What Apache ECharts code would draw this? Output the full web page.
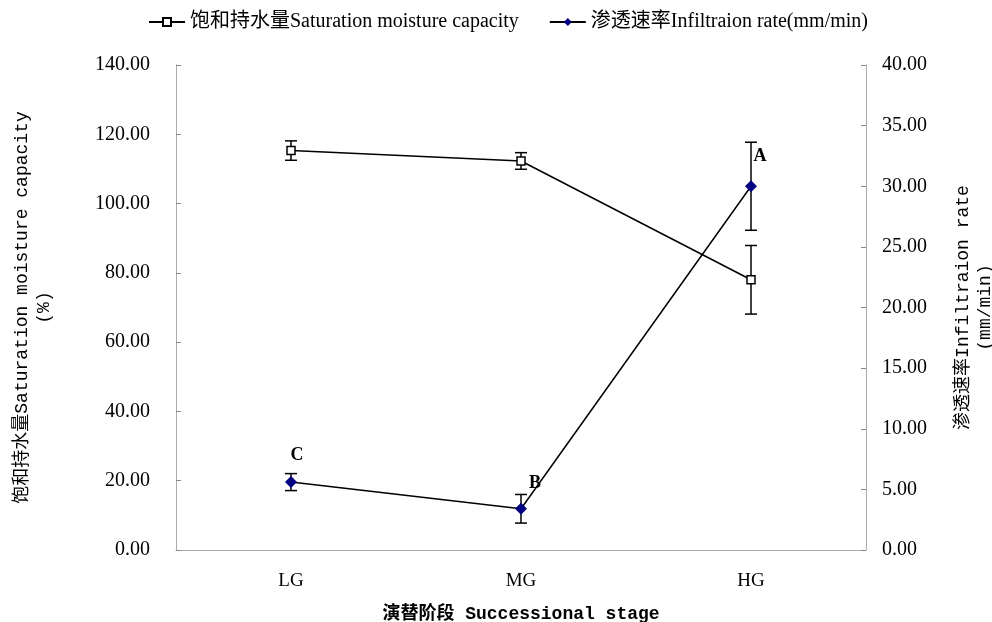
<!DOCTYPE html>
<html>
<head>
<meta charset="utf-8">
<script src="https://cdn.jsdelivr.net/npm/echarts@6/dist/echarts.min.js"></script>
<style>html,body{margin:0;padding:0;background:#fff}#c{width:992px;height:622px}</style>
</head>
<body>
<div id="c"></div>
<script>
const categories = ['LG', 'MG', 'HG'];
const satMean = [115.3, 112.3, 78.0];
const satErr = [2.8, 2.4, 9.9];
const infMean = [5.6, 3.4, 30.0];
const infErr = [0.7, 1.18, 3.63];
const infLetters = ['C', 'B', 'A'];
const leftTicks = [0, 20, 40, 60, 80, 100, 120, 140];
const rightTicks = [0, 5, 10, 15, 20, 25, 30, 35, 40];

const satName = '饱和持水量Saturation moisture capacity';
const infName = '渗透速率Infiltraion rate(mm/min)';
const serif = '"Liberation Serif", "Noto Sans CJK SC", serif';
const mono = '"Liberation Mono", "Noto Sans CJK SC", monospace';

function errRender(params, api) {
  const x = api.value(0), lo = api.value(1), hi = api.value(2);
  const p1 = api.coord([x, hi]);
  const p2 = api.coord([x, lo]);
  const w = 6;
  const st = { stroke: '#000', lineWidth: 1.5 };
  return { type: 'group', children: [
    { type: 'line', shape: { x1: p1[0], y1: p1[1], x2: p2[0], y2: p2[1] }, style: st },
    { type: 'line', shape: { x1: p1[0] - w, y1: p1[1], x2: p1[0] + w, y2: p1[1] }, style: st },
    { type: 'line', shape: { x1: p2[0] - w, y1: p2[1], x2: p2[0] + w, y2: p2[1] }, style: st }
  ]};
}

const letterOffsets = [[6, 2], [14, 4], [9, -1]];

const chart = echarts.init(document.getElementById('c'));
chart.setOption({
  animation: false,
  backgroundColor: '#fff',
  legend: {
    top: 7, left: 143, itemGap: 30, itemWidth: 36, itemHeight: 10,
    textStyle: { fontFamily: serif, fontSize: 20, color: '#000' },
    data: [satName, infName]
  },
  grid: { left: 176, right: 126, top: 65, bottom: 72, outerBoundsMode: 'none', containLabel: false },
  xAxis: {
    type: 'category', data: categories, boundaryGap: true,
    axisLine: { lineStyle: { color: '#aaa' } },
    axisTick: { inside: true, length: 5, lineStyle: { color: '#888' }, interval: 0 },
    axisLabel: { fontFamily: serif, fontSize: 19, color: '#000', margin: 22 },
    name: '演替阶段 Successional stage', nameLocation: 'middle', nameGap: 55,
    nameTextStyle: { fontFamily: mono, fontSize: 18, fontWeight: 'bold', color: '#000' }
  },
  yAxis: [{
    type: 'value', min: 0, max: 140, interval: 20,
    axisLine: { show: true, lineStyle: { color: '#aaa' } },
    axisTick: { show: true, inside: true, length: 5, lineStyle: { color: '#888' } },
    splitLine: { show: false },
    axisLabel: { fontFamily: serif, fontSize: 20, color: '#000', margin: 26,
      formatter: v => v.toFixed(2) },
    name: '饱和持水量Saturation moisture capacity\n(%)', nameLocation: 'middle', nameGap: 121,
    nameRotate: 90,
    nameTextStyle: { fontFamily: mono, fontSize: 18, color: '#000', lineHeight: 22 }
  }, {
    type: 'value', min: 0, max: 40, interval: 5,
    axisLine: { show: true, lineStyle: { color: '#aaa' } },
    axisTick: { show: true, inside: true, length: 5, lineStyle: { color: '#888' } },
    splitLine: { show: false },
    axisLabel: { fontFamily: serif, fontSize: 20, color: '#000', margin: 16,
      formatter: v => v.toFixed(2) },
    name: '渗透速率Infiltraion rate\n(mm/min)', nameLocation: 'middle', nameGap: 86,
    nameRotate: 90,
    nameTextStyle: { fontFamily: mono, fontSize: 18, color: '#000', lineHeight: 22 }
  }],
  series: [{
    name: satName, type: 'line', yAxisIndex: 0, data: satMean,
    symbol: 'rect', symbolSize: 8,
    itemStyle: { color: '#fff', borderColor: '#000', borderWidth: 1.5 },
    lineStyle: { color: '#000', width: 1.5 }, z: 5
  }, {
    name: infName, type: 'line', yAxisIndex: 1,
    data: infMean.map((v, i) => ({ value: v, label: { show: true, formatter: infLetters[i],
      position: 'top', offset: letterOffsets[i] } })),
    symbol: 'diamond', symbolSize: 12,
    itemStyle: { color: '#000080' },
    lineStyle: { color: '#000', width: 1.5 },
    label: { fontFamily: serif, fontSize: 18, fontWeight: 'bold', color: '#000', distance: 14 },
    z: 5
  }, {
    type: 'custom', yAxisIndex: 0, renderItem: errRender, silent: true, z: 3,
    data: satMean.map((v, i) => [i, v - satErr[i], v + satErr[i]])
  }, {
    type: 'custom', yAxisIndex: 1, renderItem: errRender, silent: true, z: 3,
    data: infMean.map((v, i) => [i, v - infErr[i], v + infErr[i]])
  }]
});
</script>
</body>
</html>
